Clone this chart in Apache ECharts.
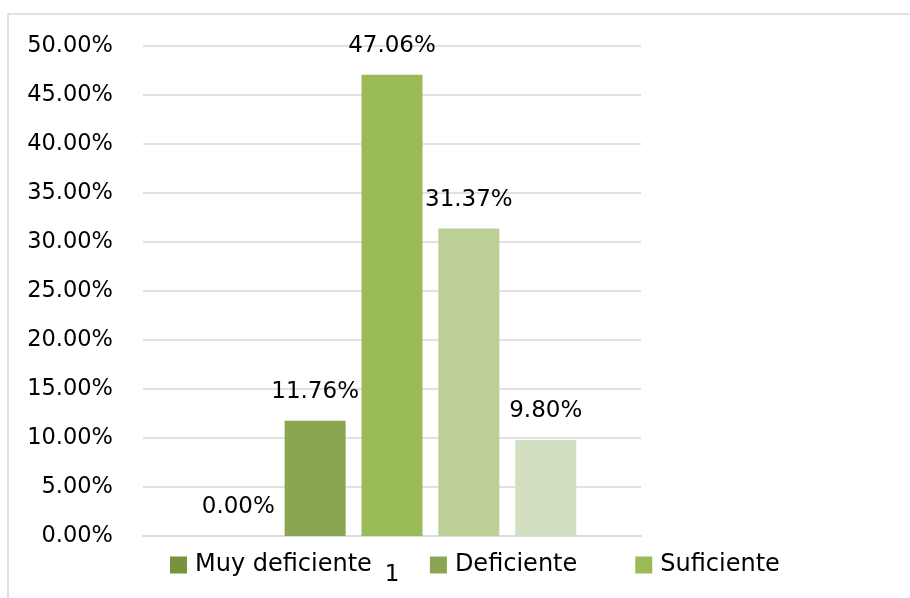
<!DOCTYPE html>
<html>
<head>
<meta charset="utf-8">
<script src="https://cdn.jsdelivr.net/npm/echarts@6/dist/echarts.min.js"></script>
<style>
  html, body { margin: 0; padding: 0; background: #fff; }
  #chart { width: 910px; height: 598px; }
</style>
</head>
<body>
<div id="chart"></div>
<script>
const categories = ['1'];
const seriesNames = ['Muy deficiente', 'Deficiente', 'Suficiente', 'Bueno', 'Muy bueno'];
const seriesValues = [0.00, 11.76, 47.06, 31.37, 9.80];
const seriesColors = ['#77933c', '#8aa650', '#9bbb59', '#bccf97', '#d2dec0'];
const legendNames = ['Muy deficiente', 'Deficiente', 'Suficiente'];

const font = 'DejaVu Sans';
const chart = echarts.init(document.getElementById('chart'));

const series = seriesNames.map((name, i) => ({
  name,
  type: 'bar',
  data: [seriesValues[i]],
  barWidth: 61,
  barGap: '26%',
  itemStyle: { color: seriesColors[i] },
  label: {
    show: true,
    position: 'top',
    distance: 17,
    color: '#000',
    fontFamily: font,
    fontSize: 23,
    formatter: p => p.value.toFixed(2) + '%'
  }
}));

chart.setOption({
  animation: false,
  graphic: [{
    type: 'rect',
    shape: { x: 8, y: 14, width: 960, height: 640 },
    style: { fill: 'none', stroke: '#d9d9d9', lineWidth: 1.5 },
    silent: true
  }],
  grid: { left: 143, right: 269, top: 46, bottom: 62 },
  legend: {
    data: legendNames,
    left: 165,
    top: 548,
    itemWidth: 17,
    itemHeight: 17,
    itemGap: 58,
    icon: 'rect',
    textStyle: { fontFamily: font, fontSize: 24, color: '#000', padding: [0, 0, 0, 3] }
  },
  xAxis: {
    type: 'category',
    data: categories,
    axisLine: { lineStyle: { color: '#d9d9d9', width: 1.5 } },
    axisTick: { show: false },
    axisLabel: { color: '#000', fontFamily: font, fontSize: 23, margin: 28 }
  },
  yAxis: {
    type: 'value',
    min: 0,
    max: 50,
    interval: 5,
    axisLine: { show: false },
    axisTick: { show: false },
    splitLine: { lineStyle: { color: '#d9d9d9', width: 1.5 } },
    axisLabel: {
      color: '#000',
      fontFamily: font,
      fontSize: 22.5,
      margin: 30,
      formatter: v => v.toFixed(2) + '%'
    }
  },
  series
});
</script>
</body>
</html>
